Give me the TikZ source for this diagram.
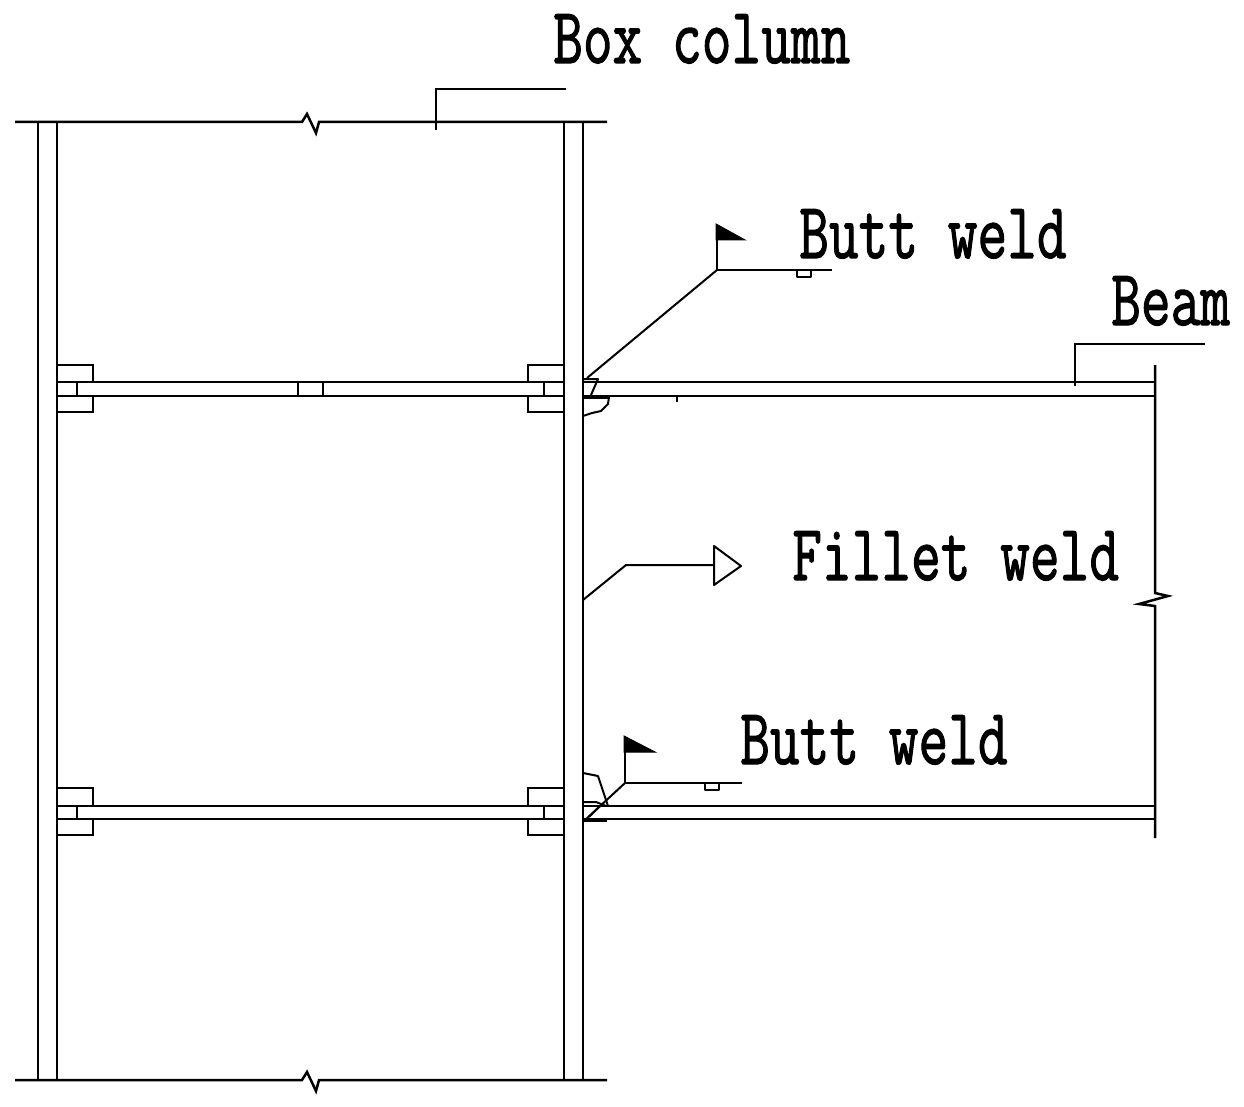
\documentclass[tikz,border=0pt]{standalone}
\usepackage{fontspec}
\newfontfamily\labelfont[RawFeature={embolden=1.6}]{Latin Modern Mono}
\tikzset{
  x=1pt,y=-1pt,
  ln/.style={draw=black,line width=2.5pt,line cap=butt,line join=miter},
  thin ln/.style={draw=black,line width=2pt,line join=round},
  label text/.style={inner sep=0pt,anchor=base west,yscale=1.38,transform shape,font=\labelfont\fontsize{57.7}{60}\selectfont},
  flagfill/.style={fill=black,draw=black,line width=1pt}
}
\begin{document}
\begin{tikzpicture}
\useasboundingbox (0,0) rectangle (1244,1107);
\fill[white] (0,0) rectangle (1244,1107);
% columns
\foreach \x in {38,57,564,583} \draw[ln] (\x,122) -- (\x,1080);
% top and bottom flanges with break marks
\foreach \y in {122,1080}
  \draw[ln] (15,\y) -- (302,\y) -- (307,\y-8) -- (316,\y+11) -- (319,\y) -- (607,\y);
% internal diaphragms and connection plates
\foreach \t/\b/\pa/\pb in {382/396/365/412,806/819/788/835}{
  \draw[ln] (57,\t) -- (564,\t) (57,\b) -- (564,\b);
  \draw[ln] (57,\pa) -- (93,\pa) -- (93,\t) (93,\b) -- (93,\pb) -- (57,\pb);
  \draw[ln] (564,\pa) -- (528,\pa) -- (528,\t) (528,\b) -- (528,\pb) -- (564,\pb);
  \draw[ln] (77,\t) -- (77,\b) (544,\t) -- (544,\b);
  \draw[ln] (583,\t) -- (1155,\t) (583,\b) -- (1155,\b);
}
\draw[ln] (298,382) -- (298,396) (323,382) -- (323,396);
% beam end with break
\draw[ln] (1155,365) -- (1155,593) -- (1168,596) -- (1139,604) -- (1155,606) -- (1155,838);
% upper weld details
\draw[thin ln] (583,379) -- (598,379) -- (591,395);
\draw[ln,line width=3.4pt] (583,397) -- (609,397);
\draw[thin ln] (609,397) -- (608,404) -- (601,411) -- (592,413) -- (583,416);
\draw[ln] (677,396) -- (677,402);
% lower weld details
\draw[thin ln] (583,773) -- (598,776) -- (606,800) -- (608,806);
\draw[thin ln] (583,802) -- (596,802) -- (606,806);
\draw[thin ln] (600,806) -- (589,817);
\draw[ln,line width=3.4pt] (583,820) -- (607,820);
% leaders
\coordinate (boxA) at (436,130); \coordinate (boxB) at (436,89); \coordinate (boxC) at (566,89);
\draw[ln] (boxA) -- (boxB) -- (boxC);
\coordinate (beamA) at (1075,386); \coordinate (beamB) at (1075,344); \coordinate (beamC) at (1205,344);
\draw[ln] (beamA) -- (beamB) -- (beamC);
% upper butt symbol
\coordinate (u0) at (587,378); \coordinate (u1) at (717,270); \coordinate (u2) at (832,270); \coordinate (u3) at (717,226);
\draw[thin ln] (u0) -- (u1);
\draw[ln] (u2) -- (u1) -- (u3);
\fill[flagfill] (716,224) -- (745,240) -- (716,240) -- cycle;
\draw[thin ln] (797,270) -- (797,277) -- (811,277) -- (811,270);
% lower butt symbol
\coordinate (l0) at (585,820); \coordinate (l1) at (625,783); \coordinate (l2) at (742,783); \coordinate (l3) at (625,736);
\draw[thin ln] (l0) -- (l1);
\draw[ln] (l2) -- (l1) -- (l3);
\fill[flagfill] (624,736) -- (655,752) -- (624,752) -- cycle;
\draw[thin ln] (705,783) -- (705,790) -- (719,790) -- (719,783);
% fillet symbol
\coordinate (f0) at (583,600); \coordinate (f1) at (626,565); \coordinate (f2) at (714,565);
\draw[thin ln] (f0) -- (f1) -- (f2);
\draw[thin ln] (714,546) -- (741,566) -- (714,585) -- cycle;
% labels
\node[label text] (tbox) at (553,63) {Box column};
\node[label text] (tbutta) at (799,258) {Butt weld};
\node[label text] (tbeam) at (1111,325) {Beam};
\node[label text] (tfillet) at (792,580) {Fillet weld};
\node[label text] (tbuttb) at (740,764) {Butt weld};
\end{tikzpicture}
\end{document}
